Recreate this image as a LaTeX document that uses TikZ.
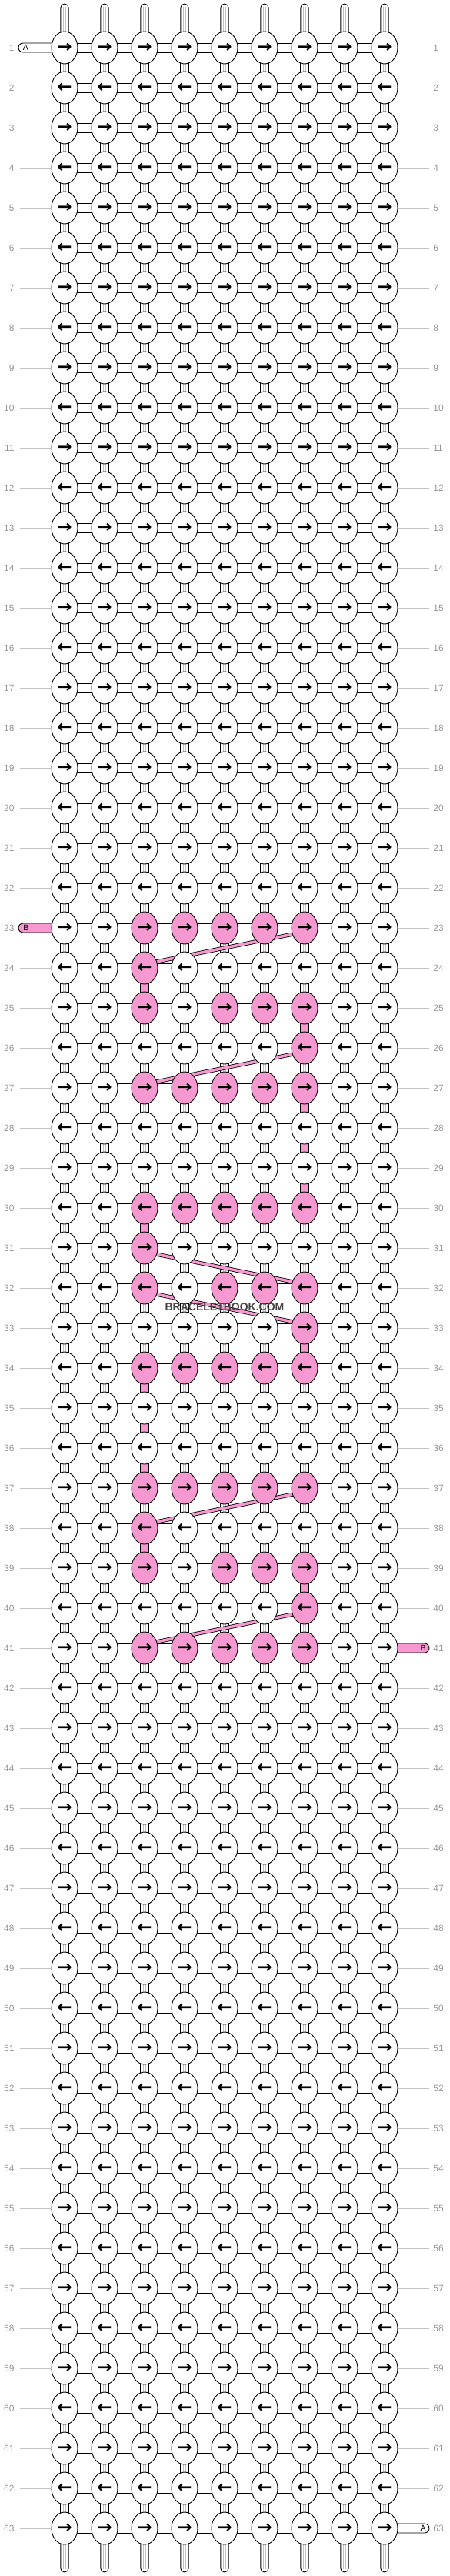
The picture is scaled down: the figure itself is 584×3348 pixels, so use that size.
\documentclass[tikz,border=0pt]{standalone}
\usepackage{fontspec}
\setmainfont{Liberation Sans}
\newfontfamily\arrowfont{DejaVu Sans}
\usetikzlibrary{shapes.geometric}
\definecolor{pk}{RGB}{245,153,208}
\definecolor{labc}{RGB}{150,150,150}
\definecolor{linec}{RGB}{195,195,195}
\definecolor{wmc}{RGB}{68,68,68}
\pgfdeclarelayer{bg}
\pgfdeclarelayer{mid}
\pgfsetlayers{bg,mid,main}
% pink knots
\foreach \r/\c in {23/3,23/4,23/5,23/6,23/7, 24/3, 25/3,25/5,25/6,25/7, 26/7,
  27/3,27/4,27/5,27/6,27/7, 30/3,30/4,30/5,30/6,30/7, 31/3, 32/3,32/5,32/6,32/7, 33/7,
  34/3,34/4,34/5,34/6,34/7, 37/3,37/4,37/5,37/6,37/7, 38/3, 39/3,39/5,39/6,39/7, 40/7,
  41/3,41/4,41/5,41/6,41/7}{\expandafter\gdef\csname pkn-\r-\c\endcsname{}}
% pink vertical connectors (between row r and r+1)
\foreach \r/\c in {24/3,25/7,27/7,28/7,29/7,30/3,33/7,34/3,35/3,36/3,38/3,39/7}{\expandafter\gdef\csname pkv-\r-\c\endcsname{}}
\begin{document}
\begin{tikzpicture}[x=1pt,y=-1pt,line width=0.9pt,
  knot/.style={ellipse, draw=black, minimum width=34pt, minimum height=42pt, inner sep=0pt,
    font=\arrowfont\bfseries\fontsize{23}{23}\selectfont},
  conn/.style={draw=black, fill=white, line width=0.9pt},
  inner/.style={draw=linec, line width=0.8pt},
  lab/.style={text=labc, font=\fontsize{12}{12}\selectfont, inner sep=0pt},
  labline/.style={draw=linec, line width=0.9pt},
  tl/.style={font=\fontsize{10.5}{10.5}\selectfont, inner sep=0pt},
  band/.style={line width=5.2pt, draw=black},
  bandin/.style={line width=3.6pt, draw=pk}]
\useasboundingbox (0,0) rectangle (584,3348);
% knots
\foreach \r in {1,...,63}{
  \foreach \c in {1,...,9}{
    \ifcsname pkn-\r-\c\endcsname\def\kf{pk}\else\def\kf{white}\fi
    \ifodd\r\def\ar{→}\else\def\ar{←}\fi
    \node[knot, fill=\kf] (k-\r-\c) at ({84+52*(\c-1)},{62+52*(\r-1)}) {\ar};
  }
}
% row labels
\foreach \r in {1,...,63}{
  \node[lab, anchor=east] (ll-\r) at (19,{62+52*(\r-1)}) {\r};
  \node[lab, anchor=west] (rl-\r) at (563,{62+52*(\r-1)}) {\r};
  \ifnum\r=1\else\ifnum\r=23\else
    \draw[labline] ([xshift=7pt]ll-\r.east) -- (k-\r-1.west);
  \fi\fi
  \ifnum\r=41\else\ifnum\r=63\else
    \draw[labline] (k-\r-9.east) -- ([xshift=-5pt]rl-\r.west);
  \fi\fi
}
\begin{pgfonlayer}{bg}
% horizontal connectors
\foreach \r in {1,...,63}{
  \foreach \c in {1,...,8}{
    \pgfmathtruncatemacro\n{\c+1}
    \filldraw[conn] ([yshift=6pt]k-\r-\c.center) rectangle ([yshift=-6pt]k-\r-\n.center);
  }
}
% vertical connectors
\foreach \r in {1,...,62}{
  \pgfmathtruncatemacro\n{\r+1}
  \foreach \c in {1,...,9}{
    \ifcsname pkv-\r-\c\endcsname
      \filldraw[conn, fill=pk] ([xshift=-5.2pt]k-\r-\c.center) rectangle ([xshift=5.2pt]k-\n-\c.center);
    \else
      \filldraw[conn] ([xshift=-5.2pt]k-\r-\c.center) rectangle ([xshift=5.2pt]k-\n-\c.center);
      \draw[inner] ([xshift=-1.7pt]k-\r-\c.center) -- ([xshift=-1.7pt]k-\n-\c.center)
                   ([xshift=1.7pt]k-\r-\c.center) -- ([xshift=1.7pt]k-\n-\c.center);
    \fi
  }
}
% strands top and bottom
\foreach \c in {1,...,9}{
  \filldraw[conn, rounded corners=5.2pt] ([xshift=-5.2pt]k-1-\c.center) -- ++(0,-57) -- ++(10.4,0) -- ++(0,57);
  \draw[inner] ([xshift=-1.7pt]k-1-\c.center) -- ++(0,-53) ([xshift=1.7pt]k-1-\c.center) -- ++(0,-53);
  \filldraw[conn, rounded corners=5.2pt] ([xshift=-5.2pt]k-63-\c.center) -- ++(0,57) -- ++(10.4,0) -- ++(0,-57);
  \draw[inner] ([xshift=-1.7pt]k-63-\c.center) -- ++(0,53) ([xshift=1.7pt]k-63-\c.center) -- ++(0,53);
}
% thread ends
\filldraw[conn, rounded corners=6pt] ([yshift=6pt]k-1-1.center) -- ++(-60,0) -- ++(0,12) -- ++(60,0);
\filldraw[conn, fill=pk, rounded corners=6pt] ([yshift=6pt]k-23-1.center) -- ++(-60,0) -- ++(0,12) -- ++(60,0);
\filldraw[conn, fill=pk, rounded corners=6pt] ([yshift=6pt]k-41-9.center) -- ++(58,0) -- ++(0,12) -- ++(-58,0);
\filldraw[conn, rounded corners=6pt] ([yshift=6pt]k-63-9.center) -- ++(58,0) -- ++(0,12) -- ++(-58,0);
\end{pgfonlayer}
\node[tl] (tA1) at (33.5,62) {A};
\node[tl] (tB23) at (34,1206) {B};
\node[tl] (tB41) at (550,2142) {B};
\node[tl] (tA63) at (550,3286) {A};
% diagonal pink bands
\begin{pgfonlayer}{mid}
\foreach \ra/\ca/\rb/\cb in {23/7/24/3, 26/7/27/3, 31/3/32/7, 32/3/33/7, 37/7/38/3, 40/7/41/3}{
  \draw[band] ([yshift=-5pt]k-\ra-\ca.center) -- ([yshift=5pt]k-\rb-\cb.center);
  \draw[bandin] ([yshift=-5pt]k-\ra-\ca.center) -- ([yshift=5pt]k-\rb-\cb.center);
}
\end{pgfonlayer}
% watermark
\node[font=\bfseries\fontsize{14}{14}\selectfont, text=wmc, inner sep=0pt] (wm) at (292,1699) {BRACELETBOOK.COM};
\end{tikzpicture}
\end{document}
